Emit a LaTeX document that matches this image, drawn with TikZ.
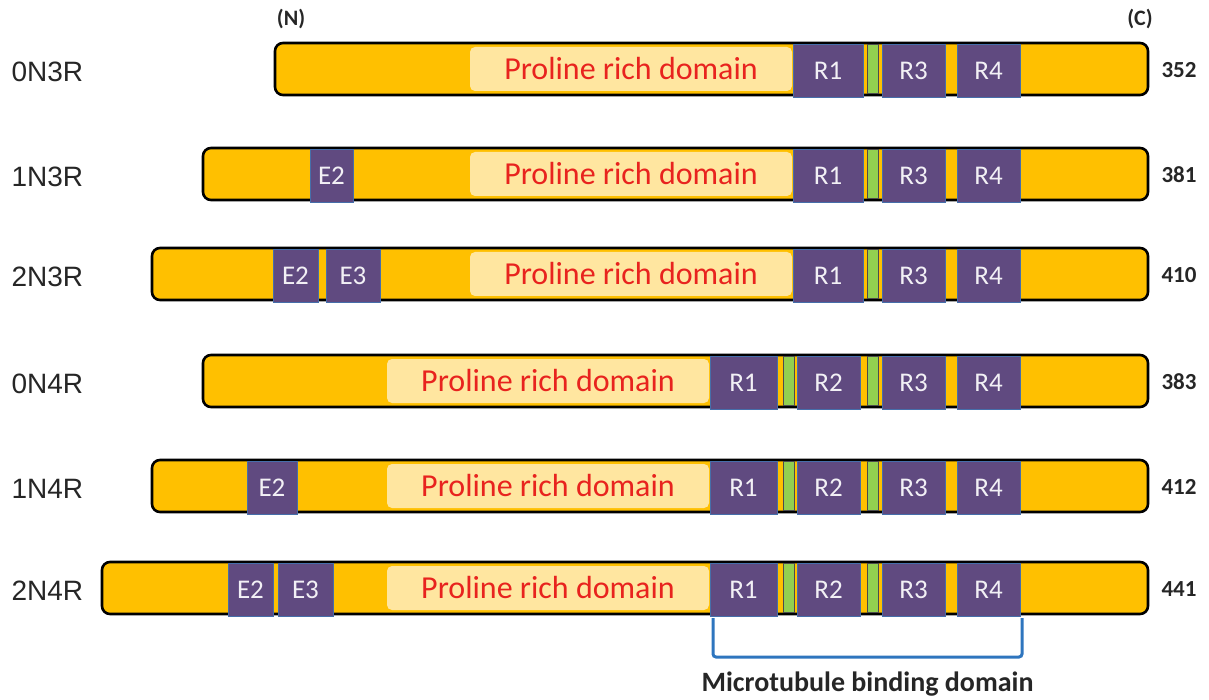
\documentclass[tikz,border=0pt]{standalone}
\usepackage{fontspec}
\newfontfamily\carlito{Carlito}
\newfontfamily\libsans{Liberation Sans}
\definecolor{barY}{RGB}{255,192,0}
\definecolor{proY}{RGB}{255,230,160}
\definecolor{proR}{RGB}{232,35,30}
\definecolor{purp}{RGB}{96,74,128}
\definecolor{purB}{RGB}{70,110,170}
\definecolor{grn}{RGB}{146,208,80}
\definecolor{mbB}{RGB}{46,117,190}
\tikzset{
  bar/.style={draw=black, line width=2.6pt, fill=barY, rounded corners=8pt, minimum height=52pt, inner sep=0pt},
  pro/.style={fill=proY, rounded corners=5pt, minimum height=44pt, inner sep=0pt, text=proR, font=\carlito\fontsize{32}{36}\selectfont},
  rep/.style={fill=purp, draw=purB, line width=0.8pt, minimum height=53pt, inner sep=0pt, text=white!92!purp, font=\carlito\fontsize{27}{30}\selectfont},
  gstripe/.style={fill=grn, draw=black!70, line width=0.6pt, minimum height=49pt, inner sep=0pt},
  iso/.style={anchor=west, font=\libsans\fontsize{28}{32}\selectfont, text=black!85},
  len/.style={anchor=west, font=\carlito\bfseries\fontsize{23}{26}\selectfont, text=black!85},
  term/.style={font=\carlito\bfseries\fontsize{22}{26}\selectfont, text=black!85},
  mbline/.style={draw=mbB, line width=3pt, rounded corners=3pt},
}
\begin{document}
\begin{tikzpicture}[x=1pt,y=-1pt]
\useasboundingbox (0,0) rectangle (1209,700);
% terminal labels
\node[term] (Nterm) at (291,19) {(N)};
\node[term] (Cterm) at (1140,19) {(C)};
% bars
\node[bar, minimum width=873] (b1) at (711.5,69) {};
\node[bar, minimum width=945] (b2) at (675.5,174) {};
\node[bar, minimum width=996] (b3) at (650,274) {};
\node[bar, minimum width=945] (b4) at (675.5,381) {};
\node[bar, minimum width=996] (b5) at (650,486) {};
\node[bar, minimum width=1046] (b6) at (625,588) {};
% isoform names and lengths
\foreach \n/\y/\t/\m in {1/69/0N3R/352, 2/174/1N3R/381, 3/274/2N3R/410, 4/381/0N4R/383, 5/486/1N4R/412, 6/588/2N4R/441}{
  \node[iso] (iso\n) at (8,\y+3) {\t};
  \node[len] (len\n) at (1158,\y+1) {\m};
}
% 3R isoforms
\foreach \n/\y in {1/69, 2/174, 3/274}{
  \node[pro, minimum width=322] (p\n) at (631,\y) {Proline rich domain};
  \node[gstripe, minimum width=11] (g\n b) at (872.5,\y) {};
  \node[rep, minimum width=70] (r\n a) at (828,\y+1.5) {R1};
  \node[rep, minimum width=63] (r\n c) at (913.5,\y+1.5) {R3};
  \node[rep, minimum width=63] (r\n d) at (988.5,\y+1.5) {R4};
}
% 4R isoforms
\foreach \n/\y in {4/381, 5/486, 6/588}{
  \node[pro, minimum width=322] (p\n) at (548,\y) {Proline rich domain};
  \node[gstripe, minimum width=11] (g\n a) at (788.5,\y) {};
  \node[gstripe, minimum width=11] (g\n b) at (872.5,\y) {};
  \node[rep, minimum width=67] (r\n a) at (743.5,\y+1.5) {R1};
  \node[rep, minimum width=63] (r\n b) at (828.5,\y+1.5) {R2};
  \node[rep, minimum width=63] (r\n c) at (913.5,\y+1.5) {R3};
  \node[rep, minimum width=63] (r\n d) at (988.5,\y+1.5) {R4};
}
% N-terminal exons
\node[rep, minimum width=43] (e2a) at (331.5,175.5) {E2};
\node[rep, minimum width=45] (e3a) at (295.5,275.5) {E2};
\node[rep, minimum width=54] (e3b) at (353,275.5) {E3};
\node[rep, minimum width=50] (e5a) at (272,487.5) {E2};
\node[rep, minimum width=45] (e6a) at (250.5,589.5) {E2};
\node[rep, minimum width=55] (e6b) at (305.5,589.5) {E3};
% microtubule binding domain bracket
\coordinate (mbL) at (713,618);
\coordinate (mbR) at (1022,618);
\coordinate (mbM) at (867.5,657);
\draw[mbline] (mbL) |- (mbM) -| (mbR);
\node[font=\carlito\bfseries\fontsize{28}{32}\selectfont, text=black!85] (mbtext) at (867.5,684) {Microtubule binding domain};
\end{tikzpicture}
\end{document}
